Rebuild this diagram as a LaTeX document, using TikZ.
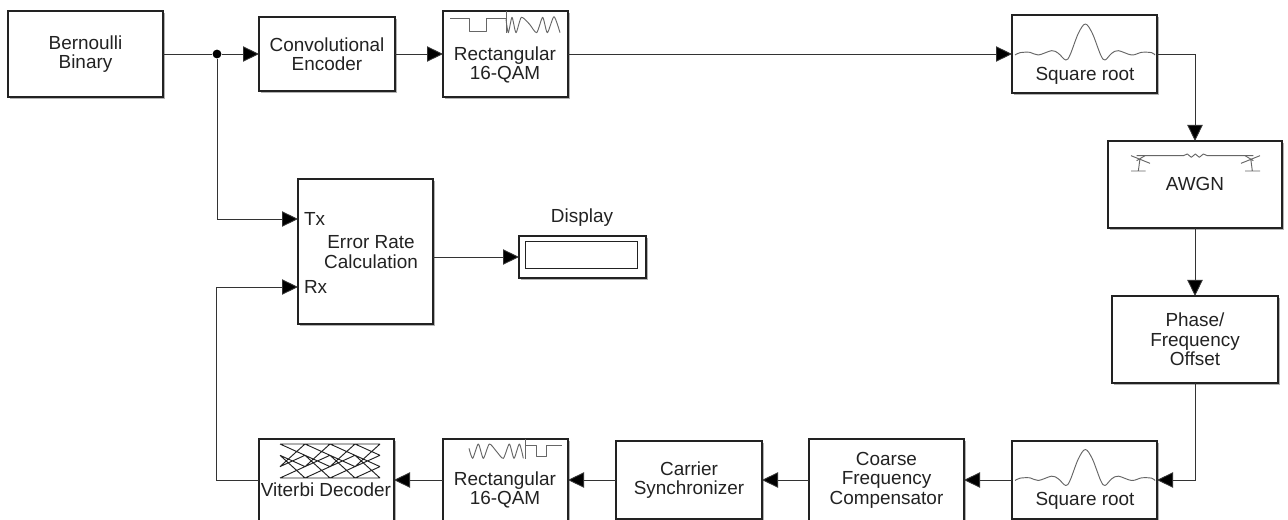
\documentclass[tikz,border=0pt]{standalone}
\usepackage{fontspec}
\setmainfont{Liberation Sans}
\usetikzlibrary{arrows.meta,shadows}
\definecolor{ink}{HTML}{222222}
\definecolor{wire}{HTML}{333333}
\definecolor{icon}{HTML}{666666}
\tikzset{
  block/.style={draw=ink,line width=1pt,fill=white,inner sep=0pt,outer sep=0pt,align=center,text=ink,
    font=\fontsize{14.2}{14.6}\selectfont,
    drop shadow={shadow xshift=1.5pt,shadow yshift=-1.5pt,opacity=.3,fill=black}},
  txt/.style={inner sep=0pt,outer sep=0pt,align=center,text=ink,font=\fontsize{14.2}{14.6}\selectfont},
  conn/.style={draw=wire,line width=.65pt,-{Triangle[length=12pt,width=11.5pt,fill=black]}},
  plain/.style={draw=wire,line width=.65pt},
  junct/.style={circle,fill=black,inner sep=0pt,minimum size=6.6pt},
  icn/.style={draw=icon,line width=.7pt,line join=round},
}
\newcommand{\blk}[6]{%
  \pgfmathsetmacro{\bw}{(#4-#2)*.75}\pgfmathsetmacro{\bh}{(#5-#3)*.75}
  \pgfmathsetmacro{\bx}{(#2+#4)/2}\pgfmathsetmacro{\by}{(#3+#5)/2}
  \node[block,minimum width=\bw pt,minimum height=\bh pt] (#1) at (\bx,\by) {#6};}
\newcommand{\sincicon}{%
  \draw[icn] plot[smooth,tension=.55] coordinates {(135,165)(150,158)(180,157)(205,165)(245,152)(265,160)(287,180)(300,165)(325,100)(346,72)(367,100)(392,165)(405,180)(425,160)(445,152)(485,165)(515,157)(545,158)(555,165)};}
\begin{document}
\begin{tikzpicture}[x=.75pt,y=-.75pt]
\clip (0,0) rectangle (1288,520);
\fill[white] (0,0) rectangle (1288,520);
% blocks
\blk{bern}{8}{11}{163}{97}{Bernoulli\\Binary}
\blk{conv}{259}{17}{395}{91}{Convolutional\\Encoder}
\blk{qamt}{443}{11}{568}{97}{}
\blk{sqt}{1012}{15}{1157}{93}{}
\blk{awgn}{1108}{141}{1282}{228}{}
\blk{phase}{1112}{296}{1278}{383}{Phase/\\Frequency\\Offset}
\blk{sqb}{1012}{441}{1157}{519}{}
\blk{coarse}{809}{439}{964}{521}{Coarse\\Frequency\\Compensator}
\blk{carr}{616}{441}{762}{519}{Carrier\\Synchronizer}
\blk{qamb}{443}{439}{568}{521}{}
\blk{vit}{259}{439}{394}{521}{}
\blk{err}{298}{179}{433}{324}{}
\blk{disp}{519}{236}{646}{278}{}
\node[draw=ink,line width=.6pt,minimum width=84pt,minimum height=20.2pt,inner sep=0pt] (dispin) at (581,254.5) {};
% labels
\node[txt] (lqamt) at (505,65) {Rectangular\\16-QAM};
\node[txt] (lsqt) at (1085,76) {Square root};
\node[txt] (lawgn) at (1195,184) {AWGN};
\node[txt] (lsqb) at (1085,501) {Square root};
\node[txt] (lqamb) at (505,490) {Rectangular\\16-QAM};
\node[txt] (lvit) at (326,490) {Viterbi Decoder};
\node[txt] (lerr) at (371,252) {Error Rate\\Calculation};
\node[txt,anchor=west] (ltx) at (304,219) {Tx};
\node[txt,anchor=west] (lrx) at (304,287) {Rx};
\node[txt] (ldisp) at (582,218) {Display};
% connectors
\node[junct] (jn) at (217,54) {};
\coordinate (txin) at (298,219);
\coordinate (rxin) at (298,287);
\coordinate (rxc) at (216,287);
\draw[plain] (bern.east) -- (jn);
\draw[conn] (jn) -- (conv.west);
\draw[conn] (jn) |- (txin);
\draw[conn] (conv.east) -- (qamt.west);
\draw[conn] (qamt.east) -- (sqt.west);
\draw[conn] (sqt.east) -| (awgn.north);
\draw[conn] (awgn.south) -- (phase.north);
\draw[conn] (phase.south) |- (sqb.east);
\draw[conn] (sqb.west) -- (coarse.east);
\draw[conn] (coarse.west) -- (carr.east);
\draw[conn] (carr.west) -- (qamb.east);
\draw[conn] (qamb.west) -- (vit.east);
\draw[plain] (vit.west) -| (rxc);
\draw[conn] (rxc) -- (rxin);
\draw[conn] (err.east |- disp.west) -- (disp.west);
% icons (coordinates are those of 3x crops)
\begin{scope}[shift={(430,0)},x=.25pt,y=-.25pt]
  \draw[icn] (60,55) -- (117,55) -- (117,95) -- (170,95) -- (170,55) -- (228,55);
  \draw[icn] (228,33) -- (228,100);
  \draw[icn] plot[smooth,tension=.4] coordinates {(228,58)(235,98)(246,52)(258,98)(274,52)(298,72)(320,98)(338,52)(352,98)(372,50)(390,98)};
\end{scope}
\begin{scope}[shift={(240,420)},x=.25pt,y=-.25pt]
  \draw[icn] (855,75) -- (888,75) -- (888,110) -- (920,110) -- (920,75) -- (965,75);
  \draw[icn] (855,57) -- (855,118);
  \draw[icn] plot[smooth,tension=.4] coordinates {(687,85)(698,115)(715,72)(730,115)(748,72)(770,95)(790,115)(808,72)(822,115)(838,72)(850,115)};
\end{scope}
\begin{scope}[shift={(970,0)},x=.25pt,y=-.25pt]
  \sincicon
\end{scope}
\begin{scope}[shift={(970,425.5)},x=.25pt,y=-.25pt]
  \sincicon
\end{scope}
\begin{scope}[shift={(970,0)},x=.25pt,y=-.25pt]
  \draw[icn] (500,467) -- (640,467) -- (652,462) -- (664,472) -- (676,462) -- (688,472) -- (700,462) -- (712,467) -- (850,467);
  \draw[icn] (483,467) -- (540,490) (500,482) -- (525,467) (510,475) -- (505,513) (483,513) -- (527,513);
  \draw[icn] (870,467) -- (813,490) (850,482) -- (825,467) (842,475) -- (847,513) (825,513) -- (870,513);
\end{scope}
% trellis
\begin{scope}[shift={(280,444)}]
  \foreach \c in {0,25,50,75}{
    \pgfmathsetmacro{\d}{\c+25}
    \draw[icn,draw=ink] (\c,0) -- (\d,0) (\c,0) -- (\d,11.3)
               (\c,11.3) -- (\d,22.6) (\c,11.3) -- (\d,34)
               (\c,22.6) -- (\d,0) (\c,22.6) -- (\d,11.3)
               (\c,34) -- (\d,22.6) (\c,34) -- (\d,34);
  }
\end{scope}
\end{tikzpicture}
\end{document}
